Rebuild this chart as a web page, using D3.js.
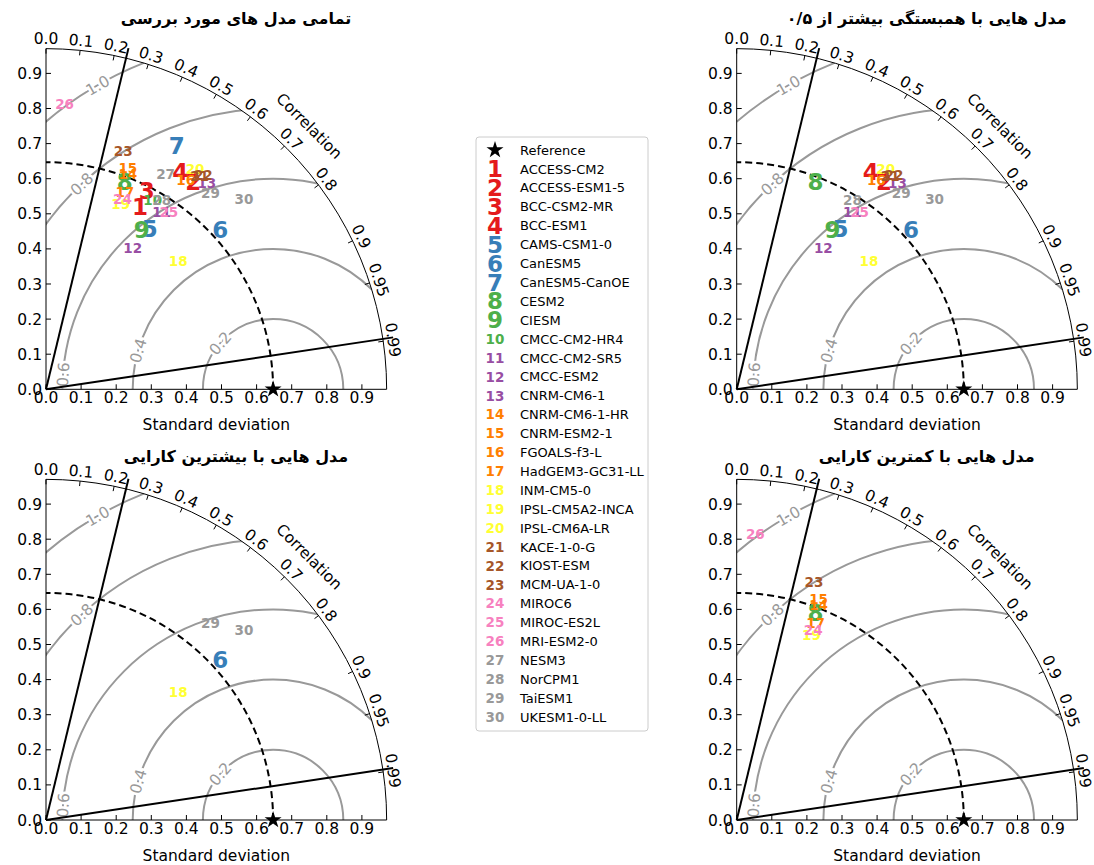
<!DOCTYPE html>
<html>
<head>
<meta charset="utf-8">
<script src="https://cdn.jsdelivr.net/npm/d3@7"></script>
<style>
  body { margin: 0; background: #fff; }
  svg text { font-family: "DejaVu Sans", sans-serif; }
</style>
</head>
<body>
<svg id="chart" width="1094" height="865"></svg>
<script>
// Models (numbered 1..30 in the legend)
const modelNames = ["ACCESS-CM2", "ACCESS-ESM1-5", "BCC-CSM2-MR", "BCC-ESM1", "CAMS-CSM1-0",
  "CanESM5", "CanESM5-CanOE", "CESM2", "CIESM", "CMCC-CM2-HR4", "CMCC-CM2-SR5", "CMCC-ESM2",
  "CNRM-CM6-1", "CNRM-CM6-1-HR", "CNRM-ESM2-1", "FGOALS-f3-L", "HadGEM3-GC31-LL", "INM-CM5-0",
  "IPSL-CM5A2-INCA", "IPSL-CM6A-LR", "KACE-1-0-G", "KIOST-ESM", "MCM-UA-1-0", "MIROC6",
  "MIROC-ES2L", "MRI-ESM2-0", "NESM3", "NorCPM1", "TaiESM1", "UKESM1-0-LL"];

// standard deviation and correlation of each model
const stdDev = [0.585, 0.725, 0.634, 0.728, 0.546, 0.674, 0.787, 0.633, 0.530, 0.619,
  0.604, 0.472, 0.745, 0.655, 0.672, 0.717, 0.604, 0.524, 0.568, 0.757,
  0.749, 0.757, 0.712, 0.584, 0.614, 0.815, 0.701, 0.633, 0.730, 0.782];
const correlation = [0.458, 0.579, 0.453, 0.525, 0.542, 0.737, 0.473, 0.355, 0.515, 0.491,
  0.546, 0.523, 0.615, 0.356, 0.347, 0.555, 0.372, 0.719, 0.375, 0.561,
  0.584, 0.592, 0.309, 0.373, 0.570, 0.065, 0.486, 0.521, 0.642, 0.721];

const refStd = 0.647;

const panelTitles = [
  "تمامی مدل های مورد بررسی",
  "مدل هایی با همبستگی بیشتر از ۰/۵",
  "مدل هایی با بیشترین کارایی",
  "مدل هایی با کمترین کارایی"
];
const panelModels = [
  d3.range(1, 31),
  [2, 4, 5, 6, 8, 9, 11, 12, 13, 16, 18, 20, 21, 22, 25, 28, 29, 30],
  [6, 18, 29, 30],
  [8, 14, 15, 17, 19, 23, 24, 26]
];

const sdTicks = [0, 0.1, 0.2, 0.3, 0.4, 0.5, 0.6, 0.7, 0.8, 0.9];
const corrTicks = [0, 0.1, 0.2, 0.3, 0.4, 0.5, 0.6, 0.7, 0.8, 0.9, 0.95, 0.99];
const rmsLevels = [0.2, 0.4, 0.6, 0.8, 1.0];
const corrLines = [0.235, 0.989];

// layout
const origins = [[46, 389.3], [736.7, 389.3], [46, 820], [736.7, 820]];
const rmsLabelAngle = [139, 164, 176, 133, 120]; // position of the inline labels on each contour
const grey = "#999";

const svg = d3.select("#chart");
const scale = d3.scaleLinear().domain([0, 1]).range([0, 351]);
const smax = 1.5 * refStd;
const R = scale(smax);
const toRad = d => d * Math.PI / 180;
const polar = (r, theta) => [scale(r) * Math.cos(theta), -scale(r) * Math.sin(theta)];
const colorOf = i => d3.schemeSet1[Math.min(8, Math.floor(i / 29 * 9))];
const arcPath = r => `M${r},0 A${r},${r} 0 0 0 0,${-r}`;

panelTitles.forEach((title, p) => {
  const g = svg.append("g")
    .attr("transform", `translate(${origins[p][0]},${origins[p][1]})`);

  // title
  g.append("text")
    .attr("x", 190).attr("y", p < 2 ? -365 : -358)
    .attr("text-anchor", "middle")
    .attr("direction", "rtl")
    .style("font-size", "16px").style("font-weight", "bold")
    .text(title);

  // centred RMS contours, clipped to the quarter disk
  const clipId = "clip" + p;
  g.append("clipPath").attr("id", clipId)
    .append("path").attr("d", `M0,0 L${R},0 A${R},${R} 0 0 0 0,${-R} Z`);

  g.append("g").attr("clip-path", `url(#${clipId})`)
    .selectAll("circle").data(rmsLevels).enter().append("circle")
    .attr("cx", scale(refStd)).attr("cy", 0)
    .attr("r", d => scale(d))
    .attr("fill", "none").attr("stroke", grey).attr("stroke-width", 2);

  g.selectAll(".rmslab").data(rmsLevels).enter().append("text")
    .attr("class", "rmslab")
    .attr("transform", (d, i) => {
      const a = toRad(rmsLabelAngle[i]);
      const x = scale(refStd + d * Math.cos(a));
      const y = -scale(d * Math.sin(a));
      return `translate(${x},${y}) rotate(${90 - rmsLabelAngle[i]})`;
    })
    .attr("text-anchor", "middle").attr("dy", "0.36em")
    .attr("fill", grey).attr("stroke", "#fff").attr("stroke-width", 5)
    .attr("paint-order", "stroke")
    .style("font-size", "15.5px")
    .text(d => d.toFixed(1));

  // reference std arc (dashed)
  g.append("path").attr("d", arcPath(scale(refStd)))
    .attr("fill", "none").attr("stroke", "#000").attr("stroke-width", 2)
    .attr("stroke-dasharray", "7,4");

  // correlation lines
  g.selectAll(".cline").data(corrLines).enter().append("line")
    .attr("class", "cline")
    .attr("x1", 0).attr("y1", 0)
    .attr("x2", d => polar(1.0, Math.acos(d))[0])
    .attr("y2", d => polar(1.0, Math.acos(d))[1])
    .attr("stroke", "#000").attr("stroke-width", 2);

  // frame
  g.append("path").attr("d", `M0,${-R} L0,0 L${R},0 ` + `A${R},${R} 0 0 0 0,${-R}`)
    .attr("fill", "none").attr("stroke", "#000").attr("stroke-width", 1);

  // std ticks on both straight axes
  sdTicks.forEach(t => {
    const v = scale(t);
    g.append("line").attr("x1", v).attr("x2", v).attr("y1", 0).attr("y2", -5)
      .attr("stroke", "#000");
    g.append("line").attr("x1", 0).attr("x2", 5).attr("y1", -v).attr("y2", -v)
      .attr("stroke", "#000");
    g.append("text").attr("x", v).attr("y", 13.5)
      .attr("text-anchor", "middle").style("font-size", "15.5px")
      .text(t.toFixed(1));
    g.append("text").attr("x", -4).attr("y", -v).attr("dy", "0.36em")
      .attr("text-anchor", "end").style("font-size", "15.5px")
      .text(t.toFixed(1));
  });
  g.append("text").attr("x", R / 2).attr("y", 41)
    .attr("text-anchor", "middle").style("font-size", "15.5px")
    .text("Standard deviation");

  // correlation ticks on the outer arc
  corrTicks.forEach(c => {
    const th = Math.acos(c);
    const cx = Math.cos(th), cy = -Math.sin(th);
    g.append("line")
      .attr("x1", R * cx).attr("y1", R * cy)
      .attr("x2", (R - 5) * cx).attr("y2", (R - 5) * cy)
      .attr("stroke", "#000");
    g.append("text")
      .attr("transform", `translate(${(R + 10) * cx},${(R + 10) * cy}) rotate(${90 - th * 180 / Math.PI})`)
      .attr("text-anchor", "middle").attr("dy", "0.36em")
      .style("font-size", "15.5px")
      .text(Math.round(c * 100) % 10 ? c.toFixed(2) : c.toFixed(1));
  });
  g.append("text")
    .attr("transform", `translate(${(R + 32) * Math.cos(toRad(45))},${-(R + 32) * Math.sin(toRad(45))}) rotate(45)`)
    .attr("text-anchor", "middle").attr("dy", "0.36em")
    .style("font-size", "15.5px")
    .text("Correlation");

  // models
  g.selectAll(".model").data(panelModels[p]).enter().append("text")
    .attr("class", "model")
    .attr("x", m => polar(stdDev[m - 1], Math.acos(correlation[m - 1]))[0])
    .attr("y", m => polar(stdDev[m - 1], Math.acos(correlation[m - 1]))[1])
    .attr("dy", "0.36em").attr("text-anchor", "middle")
    .attr("fill", m => colorOf(m - 1))
    .style("font-weight", "bold")
    .style("font-size", m => m < 10 ? "23px" : "13.5px")
    .text(m => m);

  // reference point
  g.append("path")
    .attr("d", d3.symbol(d3.symbolStar, 90)())
    .attr("transform", `translate(${scale(refStd)},0)`)
    .attr("fill", "#000");
});

// legend
const legend = svg.append("g");
const rowY = i => 150 + i * 18.9;
legend.append("rect")
  .attr("x", 476).attr("y", 137).attr("width", 172).attr("height", 594)
  .attr("rx", 3).attr("fill", "#fff").attr("stroke", "#ccc");
legend.append("path")
  .attr("d", d3.symbol(d3.symbolStar, 90)())
  .attr("transform", `translate(495,${rowY(0)})`).attr("fill", "#000");
legend.append("text").attr("x", 520).attr("y", rowY(0)).attr("dy", "0.36em")
  .style("font-size", "13px").text("Reference");
modelNames.forEach((name, i) => {
  legend.append("text").attr("x", 495).attr("y", rowY(i + 1)).attr("dy", "0.36em")
    .attr("text-anchor", "middle").attr("fill", colorOf(i))
    .style("font-weight", "bold")
    .style("font-size", i < 9 ? "23px" : "13.5px")
    .text(i + 1);
  legend.append("text").attr("x", 520).attr("y", rowY(i + 1)).attr("dy", "0.36em")
    .style("font-size", "13px").text(name);
});
</script>
</body>
</html>
